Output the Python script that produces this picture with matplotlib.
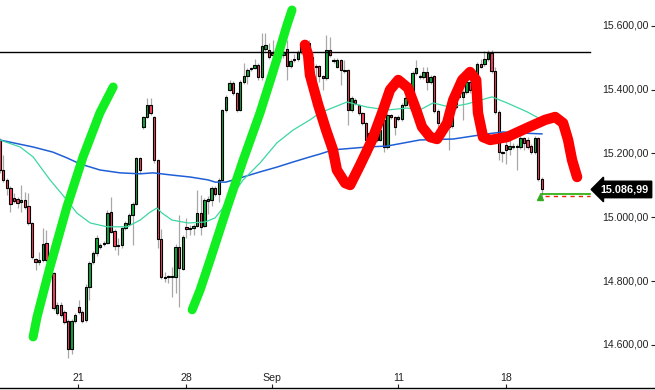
import matplotlib
matplotlib.use('Agg')
import matplotlib.pyplot as plt
import numpy as np

plt.rcParams.update({
    'font.family': ['Liberation Sans', 'DejaVu Sans'],
    'font.size': 7.6,
})

# candle data (index = candle number, 6 candles per trading day)
opens = [15242, 15148, 15117, 15092, 15060, 15057, 15048, 15054, 15035, 14982,
         14869, 14860, 14866, 14919, 14869, 14825, 14700, 14725, 14703, 14675,
         14587, 14675, 14719, 14703, 14678, 14782, 14860, 14888, 14907, 14916,
         14919, 15016, 14957, 14910, 14913, 14966, 14979, 15007, 15042, 15186,
         15283, 15314, 15352, 15314, 15179, 14932, 14813, 14813, 14816, 14813,
         14907, 14838, 14970, 14963, 14966, 14973, 15013, 14973, 15051, 15054,
         15092, 15073, 15117, 15336, 15399, 15421, 15389, 15336, 15424, 15442,
         15464, 15468, 15477, 15439, 15527, 15524, 15515, 15508, 15515, 15508,
         15527, 15474, 15496, 15496, 15518, 15540, 15546, 15502, 15474, 15474,
         15442, 15436, 15524, 15493, 15471, 15493, 15461, 15461, 15336, 15367,
         15352, 15327, 15295, 15211, 15264, 15242, 15242, 15305, 15220, 15320,
         15314, 15308, 15308, 15352, 15374, 15367, 15452, 15439, 15439, 15455,
         15424, 15442, 15333, 15286, 15286, 15283, 15286, 15345, 15377, 15377,
         15392, 15424, 15399, 15421, 15480, 15480, 15496, 15515, 15458, 15330,
         15204, 15226, 15214, 15223, 15220, 15220, 15248, 15242, 15223, 15204,
         15248, 15120]
closes = [15148, 15117, 15092, 15042, 15051, 15045, 15054, 15032, 14982, 14876,
          14860, 14866, 14916, 14866, 14819, 14716, 14725, 14694, 14672, 14587,
          14675, 14694, 14703, 14675, 14782, 14857, 14888, 14935, 14913, 14919,
          15013, 14954, 14910, 14913, 14966, 14982, 15007, 15042, 15186, 15148,
          15314, 15352, 15327, 15179, 14932, 14813, 14810, 14816, 14813, 14907,
          14841, 14938, 14963, 14966, 14973, 15013, 14970, 15054, 15057, 15092,
          15073, 15117, 15336, 15377, 15421, 15389, 15336, 15424, 15442, 15461,
          15468, 15477, 15439, 15536, 15540, 15502, 15508, 15515, 15508, 15518,
          15474, 15489, 15493, 15518, 15540, 15546, 15533, 15471, 15471, 15442,
          15436, 15524, 15508, 15490, 15493, 15461, 15458, 15336, 15374, 15358,
          15327, 15295, 15242, 15264, 15242, 15258, 15273, 15220, 15320, 15314,
          15283, 15314, 15352, 15374, 15380, 15452, 15468, 15442, 15455, 15424,
          15439, 15333, 15295, 15283, 15283, 15289, 15345, 15380, 15399, 15392,
          15424, 15399, 15421, 15480, 15471, 15496, 15515, 15458, 15330, 15204,
          15201, 15211, 15223, 15220, 15223, 15248, 15233, 15220, 15204, 15248,
          15120, 15087]
highs = [15248, 15195, 15122, 15098, 15076, 15062, 15101, 15079, 15076, 14986,
         14873, 14891, 14966, 14960, 14874, 14828, 14735, 14735, 14708, 14680,
         14680, 14700, 14740, 14708, 14790, 14862, 14895, 14945, 14920, 14925,
         15023, 15063, 14962, 14935, 14970, 14988, 15012, 15048, 15190, 15189,
         15316, 15374, 15374, 15318, 15183, 14963, 14829, 14820, 14844, 14915,
         15007, 14945, 14998, 14975, 14978, 15085, 15070, 15060, 15065, 15097,
         15098, 15122, 15340, 15382, 15430, 15426, 15393, 15430, 15483, 15466,
         15472, 15496, 15482, 15577, 15577, 15546, 15555, 15540, 15520, 15555,
         15555, 15495, 15510, 15524, 15544, 15555, 15555, 15515, 15480, 15478,
         15446, 15570, 15565, 15500, 15498, 15497, 15492, 15465, 15380, 15372,
         15356, 15330, 15299, 15270, 15268, 15262, 15278, 15310, 15326, 15324,
         15318, 15320, 15357, 15380, 15390, 15458, 15493, 15450, 15470, 15470,
         15446, 15446, 15338, 15292, 15290, 15295, 15350, 15386, 15405, 15398,
         15430, 15430, 15426, 15486, 15496, 15520, 15524, 15524, 15470, 15335,
         15208, 15240, 15245, 15232, 15230, 15254, 15252, 15250, 15228, 15254,
         15252, 15125]
lows = [15140, 15110, 15070, 15016, 15045, 15029, 15016, 15025, 14975, 14870,
        14835, 14851, 14860, 14860, 14813, 14710, 14694, 14688, 14665, 14559,
        14570, 14670, 14698, 14668, 14672, 14741, 14855, 14880, 14900, 14910,
        14915, 14950, 14897, 14882, 14905, 14960, 14975, 14913, 15038, 15140,
        15277, 15310, 15320, 15170, 14904, 14808, 14797, 14794, 14750, 14763,
        14719, 14835, 14935, 14944, 14945, 14968, 14944, 14968, 15010, 15035,
        15068, 15048, 15112, 15330, 15394, 15383, 15330, 15333, 15418, 15418,
        15458, 15463, 15430, 15430, 15520, 15495, 15490, 15486, 15486, 15500,
        15430, 15468, 15486, 15490, 15512, 15535, 15528, 15445, 15430, 15424,
        15400, 15430, 15502, 15484, 15466, 15415, 15452, 15290, 15330, 15352,
        15320, 15288, 15236, 15196, 15236, 15235, 15238, 15204, 15214, 15308,
        15258, 15303, 15302, 15345, 15365, 15362, 15446, 15433, 15433, 15400,
        15418, 15327, 15280, 15277, 15277, 15211, 15280, 15340, 15372, 15305,
        15387, 15390, 15394, 15416, 15466, 15475, 15490, 15452, 15324, 15179,
        15173, 15167, 15195, 15214, 15148, 15214, 15210, 15214, 15198, 15198,
        15114, 15060]

# moving averages (candle index, price)
ma_fast_idx = [0, 5.7, 9.3, 14, 18.7, 21.5, 25.2, 29.9, 35.5, 39.1, 41.9, 43.8,
               45.2, 48, 52.5, 57.2, 60, 63.3, 67.8, 72.5, 77.2, 81.7, 86.4,
               89.2, 96.7, 102.3, 107.9, 113.5, 117, 120.7, 125.4, 130.2,
               137.1, 141.3, 146.9, 151]
ma_fast_val = [15242, 15220, 15189, 15117, 15054, 15013, 14982, 14970, 14970,
               14991, 15016, 15029, 15013, 14991, 14982, 14985, 14998, 15045,
               15117, 15170, 15233, 15273, 15305, 15327, 15361, 15345, 15336,
               15342, 15336, 15358, 15345, 15355, 15377, 15358, 15330, 15305]
ma_slow_idx = [0, 9.3, 14.8, 18.7, 22.4, 27.9, 33.5, 39.1, 42.7, 48, 53, 58,
               60, 63, 67.8, 72.5, 77.2, 81.7, 86.4, 89.2, 92.8, 102.3, 107.9,
               117, 126.3, 135.7, 140.2, 144.9, 151]
ma_slow_val = [15242, 15220, 15204, 15186, 15167, 15148, 15139, 15136, 15139,
               15132, 15126, 15117, 15110, 15110, 15126, 15142, 15157, 15173,
               15189, 15198, 15211, 15220, 15223, 15242, 15245, 15261, 15267,
               15264, 15261]

# hand-drawn annotations (candle index, price)
stroke1_idx = [9.3, 10.4, 14.0, 18.7, 23.2, 27.9, 31.6]
stroke1_val = [14625, 14688, 14844, 15032, 15189, 15327, 15408]
stroke2_idx = [53.6, 55.8, 58.6, 63.3, 67.8, 72.5, 76.1, 78.6, 80.0, 81.4]
stroke2_val = [14710, 14772, 14866, 15029, 15179, 15327, 15455, 15549, 15602, 15649]
stroke3_idx = [85.0, 85.9, 86.4, 88.7, 90.9, 92.8, 93.9, 96.2, 97.6, 100.4,
               103.7, 106.5, 108.7, 111.0, 113.7, 116.0, 117.6, 119.9, 121.8,
               124.6, 126.3, 128.8, 131.0, 132.7, 133.2, 134.6, 136.6, 141.3,
               146.9, 151.9, 154.7, 156.9, 158.3, 159.4, 160.8]
stroke3_val = [15540, 15508, 15446, 15352, 15273, 15211, 15148, 15107, 15101,
               15164, 15242, 15327, 15399, 15430, 15405, 15336, 15283, 15251,
               15245, 15295, 15367, 15430, 15455, 15430, 15327, 15251, 15242,
               15251, 15280, 15305, 15314, 15295, 15242, 15179, 15126]

resistance = 15518
last_price = 15086.99
bid, ask = 15073, 15066
x_tick_pos = [21.9, 51.9, 75.9, 111.0, 140.9]
x_tick_lab = ['21', '28', 'Sep', '11', '18']
y_ticks = [14600, 14800, 15000, 15200, 15400, 15600]

GREEN = '#13a33c'
RED = '#f7405e'

fig = plt.figure(figsize=(6.55, 3.9), dpi=100)
ax = fig.add_axes([0, 2 / 390, 1, 388 / 390])
ax.set_xlim(0.08, 182.5)
ax.set_ylim(14465, 15680.5)

idx = np.arange(len(opens))
o, c = np.array(opens), np.array(closes)
ax.vlines(idx, lows, highs, color='#a8a8a8', linewidth=0.9, zorder=2)
up = c >= o
body_lo = np.minimum(o, c)
body_h = np.maximum(np.abs(c - o), 2.5)
ax.bar(idx, body_h, bottom=body_lo, width=0.65,
       color=np.where(up, GREEN, RED), edgecolor='black', linewidth=0.8, zorder=3)

ax.plot(ma_slow_idx, ma_slow_val, color='#1f5fd6', linewidth=1.1, zorder=4)
ax.plot(ma_fast_idx, ma_fast_val, color='#3dd6a3', linewidth=0.9, zorder=4)

ax.axhline(resistance, xmin=0, xmax=590 / 655, color='black', linewidth=1.0, zorder=4)

kw = dict(solid_capstyle='round', solid_joinstyle='round', zorder=6)
ax.plot(stroke1_idx, stroke1_val, color='#11ee22', linewidth=6.5, **kw)
ax.plot(stroke2_idx, stroke2_val, color='#11ee22', linewidth=6.5, **kw)
ax.plot(stroke3_idx, stroke3_val, color='#ff0000', linewidth=7.5, **kw)

# bid / ask lines and last-price tag
ax.plot([150.8, 164.4], [bid, bid], color='#22aa00', linewidth=1.2, zorder=5)
ax.plot([151.9, 164.4], [ask, ask], color='#ee2200', linewidth=1.0,
        linestyle=(0, (3, 3)), zorder=5)
ax.plot([150.6], [15062], marker='^', color='#33aa22', markersize=5, zorder=5)
ax.text(0.99, last_price, '15.086,99', transform=ax.get_yaxis_transform(),
        ha='right', va='center', color='white', fontweight='bold', fontsize=7.8,
        bbox=dict(boxstyle='larrow,pad=0.3', fc='black', ec='black'), zorder=7)

for v in y_ticks:
    lab = f'{v:,.2f}'.replace(',', 'X').replace('.', ',').replace('X', '.')
    ax.text(0.99, v, lab, transform=ax.get_yaxis_transform(),
            ha='right', va='center', color='#222222')
ax.yaxis.tick_right()
ax.set_yticks(y_ticks)
ax.tick_params(axis='y', direction='in', length=3, labelright=False, color='#222222')

ax.set_xticks(x_tick_pos)
ax.set_xticklabels(x_tick_lab)
ax.tick_params(axis='x', direction='in', length=3, pad=-11, colors='#222222')

for s in ('top', 'left', 'right'):
    ax.spines[s].set_visible(False)
ax.spines['bottom'].set_linewidth(1.0)

fig.savefig('out.png', dpi=100)
